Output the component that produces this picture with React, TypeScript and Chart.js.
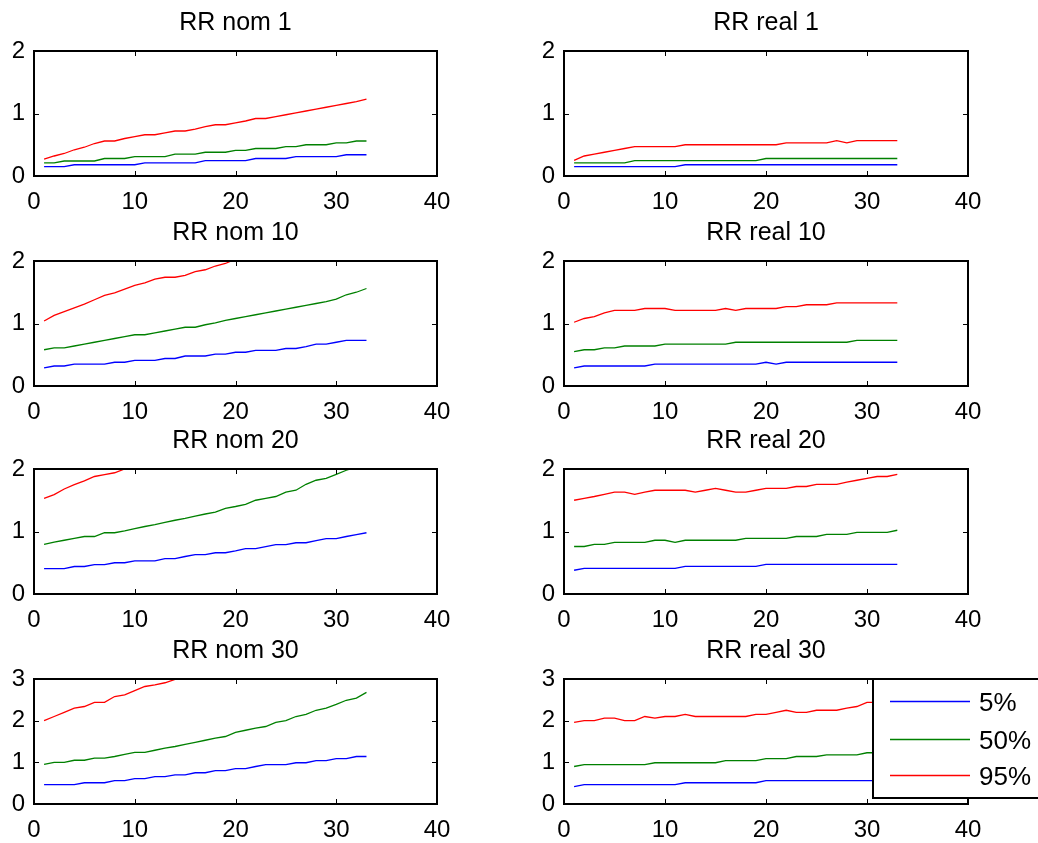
import React, { useEffect, useRef } from "react";
import { Chart, registerables } from "chart.js";

Chart.register(...registerables);

// ---------- data ----------
const xValues = [1, 2, 3, 4, 5, 6, 7, 8, 9, 10, 11, 12, 13, 14, 15, 16, 17, 18, 19, 20, 21, 22, 23, 24, 25, 26, 27, 28, 29, 30, 31, 32, 33];
const xTickValues = [0, 10, 20, 30, 40];
const yTickValuesLow = [0, 1, 2];
const yTickValuesHigh = [0, 1, 2, 3];
const seriesLabels = ["5%", "50%", "95%"];
const seriesColors = ["#0000ff", "#008000", "#ff0000"];
const panelTitles = ["RR nom 1", "RR real 1", "RR nom 10", "RR real 10", "RR nom 20", "RR real 20", "RR nom 30", "RR real 30"];

const nom1P5 = [0.15, 0.15, 0.15, 0.18, 0.18, 0.18, 0.18, 0.18, 0.18, 0.18, 0.21, 0.21, 0.21, 0.21, 0.21, 0.21, 0.245, 0.245, 0.245, 0.245, 0.245, 0.28, 0.28, 0.28, 0.28, 0.31, 0.31, 0.31, 0.31, 0.31, 0.34, 0.34, 0.34];
const nom1P50 = [0.21, 0.21, 0.24, 0.24, 0.24, 0.24, 0.28, 0.28, 0.28, 0.31, 0.31, 0.31, 0.31, 0.35, 0.35, 0.35, 0.38, 0.38, 0.38, 0.41, 0.41, 0.44, 0.44, 0.44, 0.47, 0.47, 0.5, 0.5, 0.5, 0.53, 0.53, 0.56, 0.56];
const nom1P95 = [0.27, 0.32, 0.36, 0.42, 0.46, 0.52, 0.56, 0.56, 0.6, 0.63, 0.66, 0.66, 0.69, 0.72, 0.72, 0.75, 0.79, 0.82, 0.82, 0.85, 0.88, 0.92, 0.92, 0.95, 0.98, 1.01, 1.04, 1.07, 1.1, 1.13, 1.16, 1.19, 1.23];

const real1P5 = [0.15, 0.15, 0.15, 0.15, 0.15, 0.15, 0.15, 0.15, 0.15, 0.15, 0.15, 0.18, 0.18, 0.18, 0.18, 0.18, 0.18, 0.18, 0.18, 0.18, 0.18, 0.18, 0.18, 0.18, 0.18, 0.18, 0.18, 0.18, 0.18, 0.18, 0.18, 0.18, 0.18];
const real1P50 = [0.21, 0.21, 0.21, 0.21, 0.21, 0.21, 0.245, 0.245, 0.245, 0.245, 0.245, 0.245, 0.245, 0.245, 0.245, 0.245, 0.245, 0.245, 0.245, 0.28, 0.28, 0.28, 0.28, 0.28, 0.28, 0.28, 0.28, 0.28, 0.28, 0.28, 0.28, 0.28, 0.28];
const real1P95 = [0.25, 0.32, 0.35, 0.38, 0.41, 0.44, 0.47, 0.47, 0.47, 0.47, 0.47, 0.5, 0.5, 0.5, 0.5, 0.5, 0.5, 0.5, 0.5, 0.5, 0.5, 0.53, 0.53, 0.53, 0.53, 0.53, 0.565, 0.53, 0.565, 0.565, 0.565, 0.565, 0.565];

const nom10P5 = [0.29, 0.32, 0.32, 0.35, 0.35, 0.35, 0.35, 0.38, 0.38, 0.41, 0.41, 0.41, 0.44, 0.44, 0.48, 0.48, 0.48, 0.51, 0.51, 0.54, 0.54, 0.57, 0.57, 0.57, 0.6, 0.6, 0.63, 0.67, 0.67, 0.7, 0.73, 0.73, 0.73];
const nom10P50 = [0.58, 0.61, 0.61, 0.64, 0.67, 0.7, 0.73, 0.76, 0.79, 0.82, 0.82, 0.85, 0.88, 0.91, 0.94, 0.94, 0.98, 1.01, 1.05, 1.08, 1.11, 1.14, 1.17, 1.2, 1.23, 1.26, 1.29, 1.32, 1.35, 1.39, 1.46, 1.5, 1.56];
const nom10P95 = [1.04, 1.13, 1.19, 1.25, 1.31, 1.38, 1.45, 1.49, 1.55, 1.61, 1.65, 1.71, 1.74, 1.74, 1.77, 1.83, 1.86, 1.92, 1.96, 2.03, 2.09, 2.14, 2.19, 2.24, 2.3, 2.35, 2.4, 2.46, 2.51, 2.57, 2.63, 2.69, 2.75];

const real10P5 = [0.29, 0.32, 0.32, 0.32, 0.32, 0.32, 0.32, 0.32, 0.35, 0.35, 0.35, 0.35, 0.35, 0.35, 0.35, 0.35, 0.35, 0.35, 0.35, 0.38, 0.35, 0.38, 0.38, 0.38, 0.38, 0.38, 0.38, 0.38, 0.38, 0.38, 0.38, 0.38, 0.38];
const real10P50 = [0.55, 0.58, 0.58, 0.61, 0.61, 0.64, 0.64, 0.64, 0.64, 0.67, 0.67, 0.67, 0.67, 0.67, 0.67, 0.67, 0.7, 0.7, 0.7, 0.7, 0.7, 0.7, 0.7, 0.7, 0.7, 0.7, 0.7, 0.7, 0.73, 0.73, 0.73, 0.73, 0.73];
const real10P95 = [1.02, 1.08, 1.11, 1.17, 1.21, 1.21, 1.21, 1.24, 1.24, 1.24, 1.21, 1.21, 1.21, 1.21, 1.21, 1.24, 1.21, 1.24, 1.24, 1.24, 1.24, 1.27, 1.27, 1.3, 1.3, 1.3, 1.33, 1.33, 1.33, 1.33, 1.33, 1.33, 1.33];

const nom20P5 = [0.405, 0.405, 0.405, 0.44, 0.44, 0.47, 0.47, 0.5, 0.5, 0.53, 0.53, 0.53, 0.565, 0.565, 0.6, 0.63, 0.63, 0.66, 0.66, 0.69, 0.725, 0.725, 0.757, 0.79, 0.79, 0.82, 0.82, 0.853, 0.885, 0.885, 0.92, 0.95, 0.98];
const nom20P50 = [0.795, 0.83, 0.86, 0.89, 0.92, 0.92, 0.98, 0.98, 1.01, 1.045, 1.08, 1.11, 1.145, 1.18, 1.21, 1.245, 1.28, 1.31, 1.37, 1.4, 1.435, 1.5, 1.53, 1.56, 1.63, 1.66, 1.755, 1.82, 1.85, 1.915, 1.98, 2.03, 2.08];
const nom20P95 = [1.53, 1.59, 1.68, 1.75, 1.81, 1.88, 1.91, 1.94, 2.0, 2.06, 2.11, 2.17, 2.22, 2.28, 2.33, 2.39, 2.44, 2.5, 2.56, 2.62, 2.67, 2.73, 2.8, 2.86, 2.92, 2.99, 3.06, 3.13, 3.2, 3.28, 3.35, 3.42, 3.5];

const real20P5 = [0.38, 0.41, 0.41, 0.41, 0.41, 0.41, 0.41, 0.41, 0.41, 0.41, 0.41, 0.443, 0.443, 0.443, 0.443, 0.443, 0.443, 0.443, 0.443, 0.475, 0.475, 0.475, 0.475, 0.475, 0.475, 0.475, 0.475, 0.475, 0.475, 0.475, 0.475, 0.475, 0.475];
const real20P50 = [0.76, 0.76, 0.795, 0.795, 0.827, 0.827, 0.827, 0.827, 0.86, 0.86, 0.827, 0.86, 0.86, 0.86, 0.86, 0.86, 0.86, 0.89, 0.89, 0.89, 0.89, 0.89, 0.92, 0.92, 0.92, 0.955, 0.955, 0.955, 0.987, 0.987, 0.987, 0.987, 1.02];
const real20P95 = [1.5, 1.53, 1.56, 1.595, 1.63, 1.63, 1.595, 1.63, 1.66, 1.66, 1.66, 1.66, 1.63, 1.66, 1.69, 1.66, 1.63, 1.63, 1.66, 1.69, 1.69, 1.69, 1.72, 1.72, 1.755, 1.755, 1.755, 1.79, 1.82, 1.85, 1.88, 1.88, 1.915];

const nom30P5 = [0.464, 0.464, 0.464, 0.464, 0.51, 0.51, 0.51, 0.56, 0.56, 0.61, 0.61, 0.656, 0.656, 0.7, 0.7, 0.75, 0.75, 0.8, 0.8, 0.85, 0.85, 0.9, 0.944, 0.944, 0.944, 0.99, 0.99, 1.04, 1.04, 1.09, 1.09, 1.14, 1.14];
const nom30P50 = [0.95, 1.0, 1.0, 1.05, 1.05, 1.1, 1.1, 1.14, 1.19, 1.24, 1.24, 1.29, 1.34, 1.38, 1.43, 1.48, 1.53, 1.58, 1.62, 1.72, 1.77, 1.82, 1.86, 1.96, 2.0, 2.1, 2.15, 2.25, 2.3, 2.39, 2.49, 2.54, 2.68];
const nom30P95 = [2.0, 2.1, 2.2, 2.3, 2.34, 2.44, 2.44, 2.58, 2.62, 2.72, 2.82, 2.86, 2.91, 2.99, 3.0, 3.08, 3.15, 3.22, 3.29, 3.37, 3.44, 3.52, 3.6, 3.68, 3.76, 3.85, 3.93, 4.02, 4.11, 4.2, 4.3, 4.39, 4.49];

const real30P5 = [0.416, 0.464, 0.464, 0.464, 0.464, 0.464, 0.464, 0.464, 0.464, 0.464, 0.464, 0.51, 0.51, 0.51, 0.51, 0.51, 0.51, 0.51, 0.51, 0.56, 0.56, 0.56, 0.56, 0.56, 0.56, 0.56, 0.56, 0.56, 0.56, 0.56, 0.56, 0.56, 0.56];
const real30P50 = [0.9, 0.944, 0.944, 0.944, 0.944, 0.944, 0.944, 0.944, 0.99, 0.99, 0.99, 0.99, 0.99, 0.99, 0.99, 1.04, 1.04, 1.04, 1.04, 1.09, 1.09, 1.09, 1.14, 1.14, 1.14, 1.18, 1.18, 1.18, 1.18, 1.23, 1.23, 1.23, 1.28];
const real30P95 = [1.96, 2.0, 2.0, 2.06, 2.06, 2.0, 2.0, 2.1, 2.06, 2.1, 2.1, 2.15, 2.1, 2.1, 2.1, 2.1, 2.1, 2.1, 2.15, 2.15, 2.2, 2.25, 2.2, 2.2, 2.25, 2.25, 2.25, 2.3, 2.34, 2.44, 2.44, 2.44, 2.48];

const panelSeries = [
  [nom1P5, nom1P50, nom1P95],
  [real1P5, real1P50, real1P95],
  [nom10P5, nom10P50, nom10P95],
  [real10P5, real10P50, real10P95],
  [nom20P5, nom20P50, nom20P95],
  [real20P5, real20P50, real20P95],
  [nom30P5, nom30P50, nom30P95],
  [real30P5, real30P50, real30P95],
];
const panelYTicks = [yTickValuesLow, yTickValuesLow, yTickValuesLow, yTickValuesLow, yTickValuesLow, yTickValuesLow, yTickValuesHigh, yTickValuesHigh];

// ---------- layout ----------
const FONT = "'Liberation Sans', Arial, Helvetica, sans-serif";
const PLOT_TOPS = [51, 261, 469, 679];
const PLOT_H = 125;
const COL_PLOT_LEFT = [34, 564];
const COL_PLOT_W = [403, 404];
const Y_AXIS_W = 34;
const TITLE_H = 51;
const X_AXIS_H = 35;
const CANVAS_RIGHT = [490, 1038];

const boxPlugin = {
  id: "matlabBox",
  afterDatasetsDraw(chart: any) {
    const { ctx, chartArea } = chart;
    const { left, right, top, bottom } = chartArea;
    const xs = chart.scales.x;
    const ys = chart.scales.y;
    const tl = 5;
    ctx.save();
    ctx.strokeStyle = "#000";
    ctx.lineWidth = 1;
    ctx.beginPath();
    xs.ticks.forEach((t: any) => {
      const p = Math.round(xs.getPixelForValue(t.value)) + 0.5;
      ctx.moveTo(p, bottom);
      ctx.lineTo(p, bottom - tl);
      ctx.moveTo(p, top);
      ctx.lineTo(p, top + tl);
    });
    ys.ticks.forEach((t: any) => {
      const p = Math.round(ys.getPixelForValue(t.value)) + 0.5;
      ctx.moveTo(left, p);
      ctx.lineTo(left + tl, p);
      ctx.moveTo(right, p);
      ctx.lineTo(right - tl, p);
    });
    ctx.stroke();
    ctx.lineWidth = 2;
    ctx.strokeRect(left, top, right - left, bottom - top);
    ctx.restore();
  },
};

const legendPlugin = {
  id: "matlabLegend",
  afterDraw(chart: any) {
    const { ctx, chartArea } = chart;
    const bx = chartArea.left + 309;
    const by = chartArea.top;
    const bw = chart.width - bx + 4;
    const bh = 119;
    ctx.save();
    ctx.fillStyle = "#ffffff";
    ctx.fillRect(bx, by, bw, bh);
    ctx.strokeStyle = "#000000";
    ctx.lineWidth = 2;
    ctx.strokeRect(bx, by, bw, bh);
    const rowsY = [22, 60, 96];
    ctx.font = `26px ${FONT}`;
    ctx.textBaseline = "middle";
    ctx.textAlign = "left";
    chart.data.datasets.forEach((ds: any, i: number) => {
      const yy = by + rowsY[i] + 0.5;
      ctx.beginPath();
      ctx.strokeStyle = seriesColors[i];
      ctx.lineWidth = 1.3;
      ctx.moveTo(chartArea.left + 326, yy);
      ctx.lineTo(chartArea.left + 406, yy);
      ctx.stroke();
      ctx.fillStyle = "#000000";
      ctx.fillText(String(ds.label), chartArea.left + 415, yy + 2);
    });
    ctx.restore();
  },
};

function Panel({ index }: { index: number }) {
  const ref = useRef<HTMLCanvasElement | null>(null);
  const row = Math.floor(index / 2);
  const col = index % 2;
  const canvasLeft = COL_PLOT_LEFT[col] - Y_AXIS_W;
  const canvasTop = PLOT_TOPS[row] - TITLE_H;
  const canvasW = CANVAS_RIGHT[col] - canvasLeft;
  const canvasH = TITLE_H + PLOT_H + X_AXIS_H;
  const padRight = canvasW - Y_AXIS_W - COL_PLOT_W[col];
  const yTicks = panelYTicks[index];
  const showLegend = index === 7;

  useEffect(() => {
    if (!ref.current) return;
    const tickFont = { family: FONT, size: 24, weight: "normal" as const };
    const titleFont = { family: FONT, size: 25, weight: "normal" as const };
    const chart = new Chart(ref.current, {
      type: "line",
      data: {
        datasets: panelSeries[index].map((vals, i) => ({
          label: seriesLabels[i],
          data: vals.map((v, j) => ({ x: xValues[j], y: v })),
          borderColor: seriesColors[i],
          backgroundColor: seriesColors[i],
          borderWidth: 1.3,
          pointRadius: 0,
          tension: 0,
          fill: false,
        })),
      },
      options: {
        animation: false,
        responsive: false,
        maintainAspectRatio: false,
        layout: { padding: { left: 0, top: 0, right: padRight, bottom: 0 } },
        plugins: {
          legend: { display: false },
          tooltip: { enabled: false },
          title: {
            display: true,
            text: panelTitles[index],
            color: "#000",
            fullSize: false,
            font: titleFont,
            padding: { top: 8.5, bottom: 12.5 },
          },
        },
        scales: {
          x: {
            type: "linear",
            min: xTickValues[0],
            max: xTickValues[xTickValues.length - 1],
            afterBuildTicks: (s: any) => {
              s.ticks = xTickValues.map((v) => ({ value: v }));
            },
            afterFit: (s: any) => {
              s.height = X_AXIS_H;
            },
            grid: { display: false, drawTicks: false },
            border: { display: false },
            ticks: { color: "#000", font: tickFont, padding: 12, maxRotation: 0, autoSkip: false },
          },
          y: {
            type: "linear",
            min: yTicks[0],
            max: yTicks[yTicks.length - 1],
            afterBuildTicks: (s: any) => {
              s.ticks = yTicks.map((v) => ({ value: v }));
            },
            afterFit: (s: any) => {
              s.width = Y_AXIS_W;
            },
            grid: { display: false, drawTicks: false },
            border: { display: false },
            ticks: { color: "#000", font: tickFont, padding: 9, autoSkip: false },
          },
        },
      } as any,
      plugins: showLegend ? [boxPlugin, legendPlugin] : [boxPlugin],
    });
    return () => chart.destroy();
  }, [index]);

  return (
    <canvas
      ref={ref}
      width={canvasW}
      height={canvasH}
      style={{ position: "absolute", left: canvasLeft, top: canvasTop, width: canvasW, height: canvasH }}
    />
  );
}

export default function App() {
  return (
    <div style={{ position: "absolute", left: 0, top: 0, width: 1038, height: 843, background: "#fff", overflow: "hidden" }}>
      {panelTitles.map((_, i) => (
        <Panel key={i} index={i} />
      ))}
    </div>
  );
}
